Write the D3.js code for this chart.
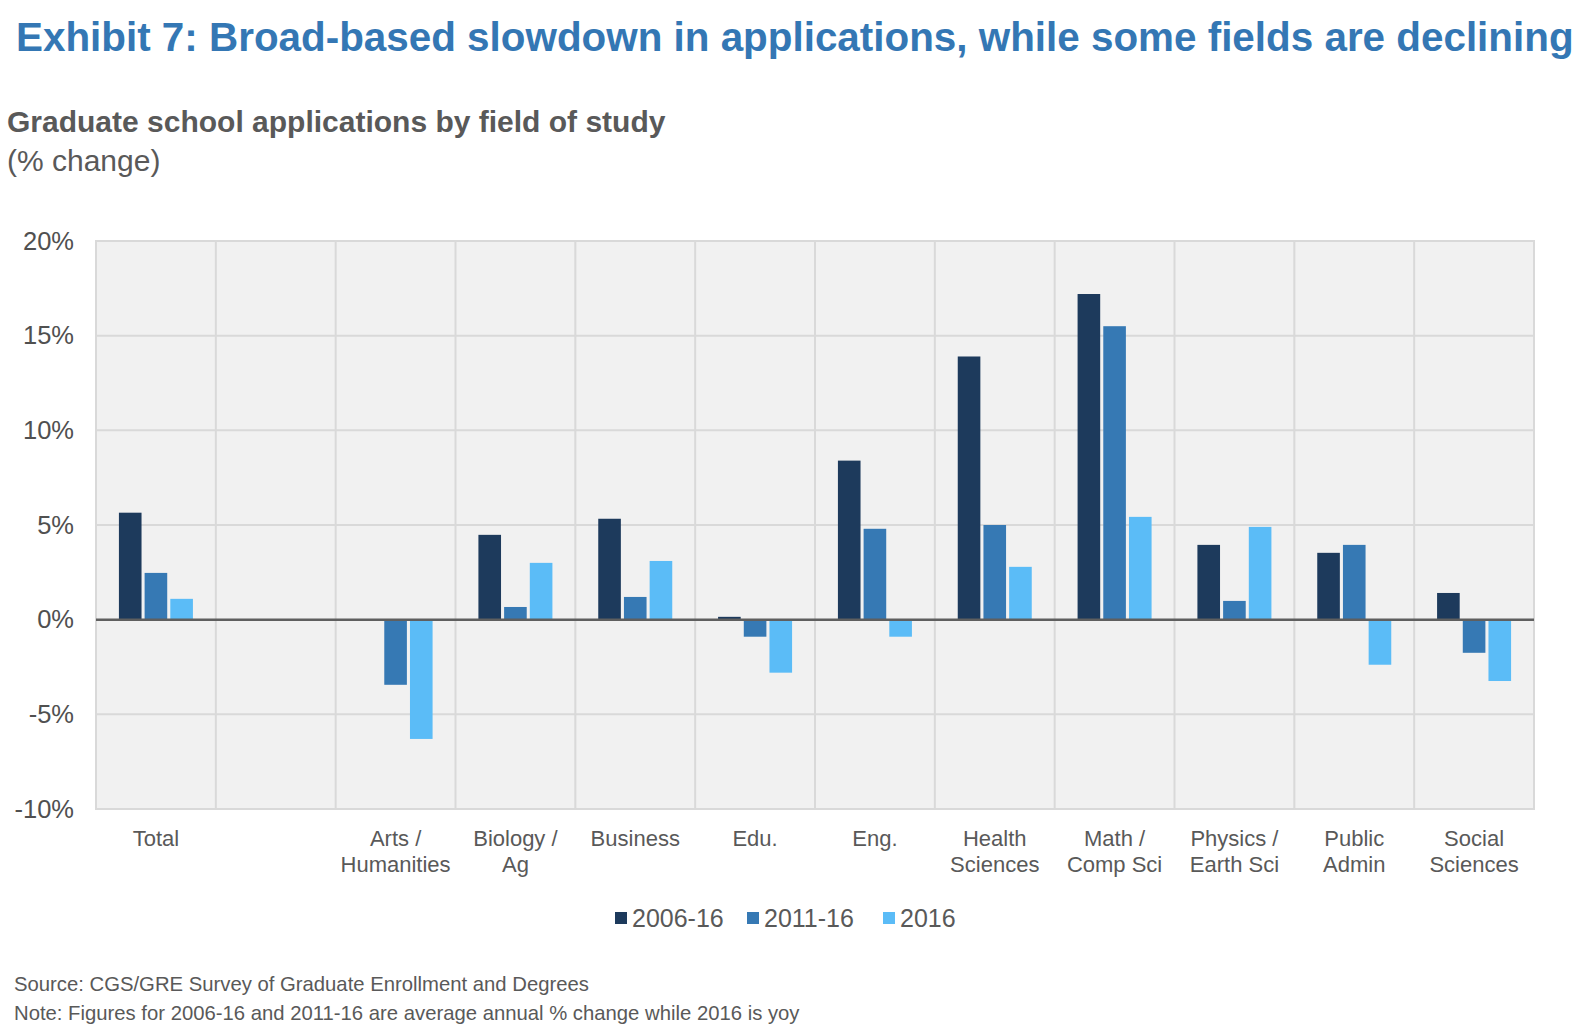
<!DOCTYPE html>
<html>
<head>
<meta charset="utf-8">
<script src="https://cdn.jsdelivr.net/npm/d3@7"></script>
<style>
  body { margin: 0; background: #fff; }
  svg { display: block; font-family: "Liberation Sans", Arial, Helvetica, sans-serif; }
</style>
</head>
<body>
<svg width="1594" height="1032"></svg>
<script>
// categories (blank slot after Total is kept on purpose, as in the source chart)
var categories = ["Total", "", "Arts / Humanities", "Biology / Ag", "Business", "Edu.", "Eng.",
  "Health Sciences", "Math / Comp Sci", "Physics / Earth Sci", "Public Admin", "Social Sciences"];
var labelLines = [["Total"], [""], ["Arts /", "Humanities"], ["Biology /", "Ag"], ["Business"], ["Edu."], ["Eng."],
  ["Health", "Sciences"], ["Math /", "Comp Sci"], ["Physics /", "Earth Sci"], ["Public", "Admin"], ["Social", "Sciences"]];

var seriesNames = ["2006-16", "2011-16", "2016"];
var v2006_16 = [5.65, null, null, 4.48, 5.33, 0.15, 8.4, 13.9, 17.2, 3.95, 3.53, 1.41];
var v2011_16 = [2.47, null, -3.44, 0.67, 1.2, -0.9, 4.8, 5.0, 15.5, 0.99, 3.95, -1.75];
var v2016 = [1.1, null, -6.3, 3.0, 3.1, -2.8, -0.9, 2.79, 5.43, 4.9, -2.38, -3.24];

var yTicks = [20, 15, 10, 5, 0, -5, -10];

var colors = ["#1d3a5c", "#3679b4", "#5bbcf7"];
var textColor = "#595959";

var svg = d3.select("svg");

// title block
svg.append("text")
  .attr("x", 16).attr("y", 51)
  .attr("font-size", 40.4).attr("font-weight", "bold")
  .attr("fill", "#3477b4")
  .text("Exhibit 7: Broad-based slowdown in applications, while some fields are declining");

svg.append("text")
  .attr("x", 7).attr("y", 132)
  .attr("font-size", 30).attr("font-weight", "bold")
  .attr("fill", textColor)
  .text("Graduate school applications by field of study");

svg.append("text")
  .attr("x", 7).attr("y", 171)
  .attr("font-size", 30)
  .attr("fill", textColor)
  .text("(% change)");

// plot area
var pLeft = 96, pRight = 1534, pTop = 241, pBottom = 809;

var x = d3.scaleBand().domain(d3.range(categories.length)).range([pLeft, pRight]);
var x1 = d3.scaleBand().domain(seriesNames).range([0, 74]).paddingInner(0.12);
var y = d3.scaleLinear().domain([-10, 20]).range([pBottom, pTop]);

svg.append("rect")
  .attr("x", pLeft).attr("y", pTop)
  .attr("width", pRight - pLeft).attr("height", pBottom - pTop)
  .attr("fill", "#f1f1f1")
  .attr("stroke", "#d9d9d9").attr("stroke-width", 2);

// horizontal grid
svg.append("g").selectAll("line")
  .data(yTicks.filter(function(d) { return d !== 0; }))
  .join("line")
  .attr("x1", pLeft).attr("x2", pRight)
  .attr("y1", function(d) { return y(d); }).attr("y2", function(d) { return y(d); })
  .attr("stroke", "#d9d9d9").attr("stroke-width", 2);

// vertical grid between categories
svg.append("g").selectAll("line")
  .data(d3.range(1, categories.length))
  .join("line")
  .attr("x1", function(i) { return x(i); }).attr("x2", function(i) { return x(i); })
  .attr("y1", pTop).attr("y2", pBottom)
  .attr("stroke", "#d9d9d9").attr("stroke-width", 2);

// bars
var allSeries = [v2006_16, v2011_16, v2016];
var off = (x.bandwidth() - 74) / 2;
allSeries.forEach(function(vals, s) {
  svg.append("g").selectAll("rect")
    .data(vals.map(function(v, i) { return { i: i, v: v }; }).filter(function(d) { return d.v !== null; }))
    .join("rect")
    .attr("x", function(d) { return x(d.i) + off + x1(seriesNames[s]); })
    .attr("width", x1.bandwidth())
    .attr("y", function(d) { return y(Math.max(0, d.v)); })
    .attr("height", function(d) { return Math.abs(y(d.v) - y(0)); })
    .attr("fill", colors[s]);
});

// zero line
svg.append("line")
  .attr("x1", pLeft).attr("x2", pRight)
  .attr("y1", y(0)).attr("y2", y(0))
  .attr("stroke", "#5f5f5f").attr("stroke-width", 2.5);

// y axis labels
var yAxis = d3.axisLeft(y).tickValues(yTicks).tickSize(0).tickPadding(22)
  .tickFormat(function(d) { return d + "%"; });
var gy = svg.append("g").attr("transform", "translate(" + pLeft + ",0)").call(yAxis);
gy.select(".domain").remove();
gy.selectAll("text").attr("font-size", 25.5).attr("fill", "#505050")
  .attr("font-family", "'Liberation Sans', Arial, sans-serif");

// x labels
var xl = svg.append("g").selectAll("text")
  .data(labelLines)
  .join("text")
  .attr("x", function(d, i) { return x(i) + x.bandwidth() / 2; })
  .attr("y", 846)
  .attr("text-anchor", "middle")
  .attr("font-size", 22)
  .attr("fill", textColor);
xl.selectAll("tspan")
  .data(function(d) { return d; })
  .join("tspan")
  .attr("x", function() { return d3.select(this.parentNode).attr("x"); })
  .attr("dy", function(d, j) { return j === 0 ? 0 : 26; })
  .text(function(d) { return d; });

// legend
var legendX = [615, 747, 883];
var lg = svg.append("g").selectAll("g")
  .data(seriesNames)
  .join("g")
  .attr("transform", function(d, i) { return "translate(" + legendX[i] + ",912)"; });
lg.append("rect").attr("width", 12).attr("height", 12)
  .attr("fill", function(d, i) { return colors[i]; });
lg.append("text").attr("x", 17).attr("y", 15)
  .attr("font-size", 25).attr("fill", textColor)
  .text(function(d) { return d; });

// footnotes
svg.append("text")
  .attr("x", 14).attr("y", 991)
  .attr("font-size", 20.3).attr("fill", textColor)
  .text("Source: CGS/GRE Survey of Graduate Enrollment and Degrees");
svg.append("text")
  .attr("x", 14).attr("y", 1020)
  .attr("font-size", 20.3).attr("fill", textColor)
  .text("Note: Figures for 2006-16 and 2011-16 are average annual % change while 2016 is yoy");
</script>
</body>
</html>
